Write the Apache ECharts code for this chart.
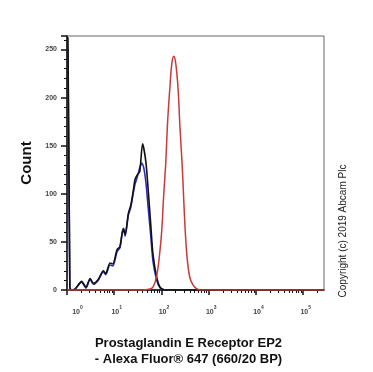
<!DOCTYPE html>
<html>
<head>
<meta charset="utf-8">
<script src="https://cdn.jsdelivr.net/npm/echarts@6/dist/echarts.min.js"></script>
<style>html,body{margin:0;padding:0;background:#fff}#c{width:373px;height:372px}</style>
</head>
<body>
<div id="c"></div>
<script>
// x values are log10(fluorescence intensity)
const blackLog   = [0.00, 0.02, 0.06, 0.10, 0.17, 0.31, 0.40, 0.49, 0.56, 0.66, 0.77, 0.82, 0.91, 0.97, 1.06, 1.12, 1.19, 1.23, 1.30, 1.35, 1.40, 1.44, 1.49, 1.54, 1.60, 1.67, 1.72, 1.77, 1.82, 1.90, 1.97, 2.07, 5.44];
const blackCount = [262, 262, 2, 0, 1, 9, 3, 12, 7, 11, 20, 17, 28, 27, 42, 45, 63, 58, 80, 88, 102, 115, 120, 123, 152, 133, 103, 70, 37, 13, 3, 0, 0];

const blueLog   = [0.00, 0.02, 0.06, 0.10, 0.17, 0.31, 0.40, 0.49, 0.56, 0.66, 0.77, 0.82, 0.91, 0.97, 1.06, 1.12, 1.17, 1.20, 1.23, 1.30, 1.35, 1.40, 1.44, 1.49, 1.54, 1.58, 1.62, 1.67, 1.72, 1.77, 1.82, 1.90, 1.97, 2.07];
const blueCount = [250, 250, 2, 0, 1, 8, 2, 11, 6, 10, 19, 16, 26, 25, 40, 44, 60, 64, 56, 78, 86, 100, 110, 118, 127, 132, 128, 112, 85, 58, 30, 10, 2, 0];

const redLog   = [0.00, 1.60, 1.75, 1.82, 1.90, 1.97, 2.01, 2.04, 2.09, 2.13, 2.18, 2.22, 2.26, 2.30, 2.35, 2.39, 2.44, 2.47, 2.51, 2.55, 2.60, 2.67, 2.74, 2.85, 5.44];
const redCount = [0, 0, 1, 3, 15, 42, 65, 93, 132, 175, 212, 236, 243, 236, 210, 170, 128, 95, 55, 30, 13, 5, 1.5, 0, 0];

const decadeExponents = [0, 1, 2, 3, 4, 5];
const minorMultipliers = [2, 3, 4, 5, 6, 7, 8, 9];

const xMin = 0, xMax = 5.44, yMin = 0, yMax = 264;

const zip = (xs, ys) => xs.map((x, i) => [x, ys[i]]);
const minorTicks = [];
decadeExponents.forEach(n => minorMultipliers.forEach(k => {
  const v = n + Math.log10(k);
  if (v < xMax) minorTicks.push(v);
}));

const chart = echarts.init(document.getElementById('c'), null, {renderer: 'canvas'});
const F = '"Liberation Sans", Arial, sans-serif';
chart.setOption({
  animation: false,
  backgroundColor: '#fff',
  grid: {left: 67, right: 49, top: 36, bottom: 72, show: true, borderColor: '#666', borderWidth: 1},
  xAxis: [{
    type: 'value', min: xMin, max: xMax, position: 'bottom',
    axisLine: {show: true, onZero: false, lineStyle: {color: '#111', width: 1.5}},
    axisTick: {show: true, customValues: decadeExponents, length: 5, lineStyle: {color: '#111', width: 1.5}},
    axisLabel: {
      show: true, customValues: decadeExponents, margin: 15, showMinLabel: true, showMaxLabel: true,
      formatter: v => (Math.round(v) === 0 ? '{p|}' : '') + '{b|10}{s|' + Math.round(v) + '}',
      rich: {
        p: {width: 16, lineHeight: 11},
        b: {fontSize: 7, fontFamily: F, color: '#444', fontWeight: 'bold', lineHeight: 11, verticalAlign: 'bottom', padding: [0, 0, 0, 5]},
        s: {fontSize: 5, fontFamily: F, color: '#444', fontWeight: 'bold', lineHeight: 11, verticalAlign: 'top'}
      }
    },
    splitLine: {show: false},
    name: 'Prostaglandin E Receptor EP2\n- Alexa Fluor\u00AE 647 (660/20 BP)',
    nameLocation: 'middle', nameGap: 45,
    nameTextStyle: {fontFamily: F, fontSize: 13, fontWeight: 'bold', color: '#111', lineHeight: 16, padding: [0, 14, 0, 0]}
  }, {
    type: 'value', min: xMin, max: xMax, position: 'bottom',
    axisLine: {show: false},
    axisTick: {show: true, customValues: minorTicks, length: 3, lineStyle: {color: '#111', width: 1}},
    axisLabel: {show: false},
    splitLine: {show: false}
  }],
  yAxis: {
    type: 'value', min: yMin, max: yMax, interval: 50,
    axisLine: {show: true, onZero: false, lineStyle: {color: '#111', width: 1.5}},
    axisTick: {show: true, length: 6, lineStyle: {color: '#111', width: 1.5}},
    minorTick: {show: true, splitNumber: 5, length: 3, lineStyle: {color: '#111', width: 1}},
    axisLabel: {fontSize: 7, fontFamily: F, color: '#444', fontWeight: 'bold', margin: 10, showMaxLabel: false},
    splitLine: {show: false},
    minorSplitLine: {show: false},
    name: 'Count', nameLocation: 'middle', nameGap: 33, nameRotate: 90,
    nameTextStyle: {fontFamily: F, fontSize: 15, fontWeight: 'bold', color: '#111'}
  },
  graphic: [{
    type: 'text', x: 343, y: 231, rotation: Math.PI / 2,
    style: {text: 'Copyright (c) 2019 Abcam Plc', font: '10px ' + F, fill: '#222', align: 'center', verticalAlign: 'middle'}
  }],
  series: [
    {type: 'line', name: 'blue', data: zip(blueLog, blueCount), showSymbol: false, smooth: 0.25,
     lineStyle: {color: '#2a2ab4', width: 1.6}, itemStyle: {color: '#2a2ab4'}},
    {type: 'line', name: 'black', data: zip(blackLog, blackCount), showSymbol: false, smooth: 0.25,
     lineStyle: {color: '#111', width: 1.6}, itemStyle: {color: '#111'}},
    {type: 'line', name: 'red', data: zip(redLog, redCount), showSymbol: false, smooth: 0.4,
     lineStyle: {color: '#c93a3a', width: 1.5}, itemStyle: {color: '#c93a3a'}}
  ]
});
</script>
</body>
</html>
